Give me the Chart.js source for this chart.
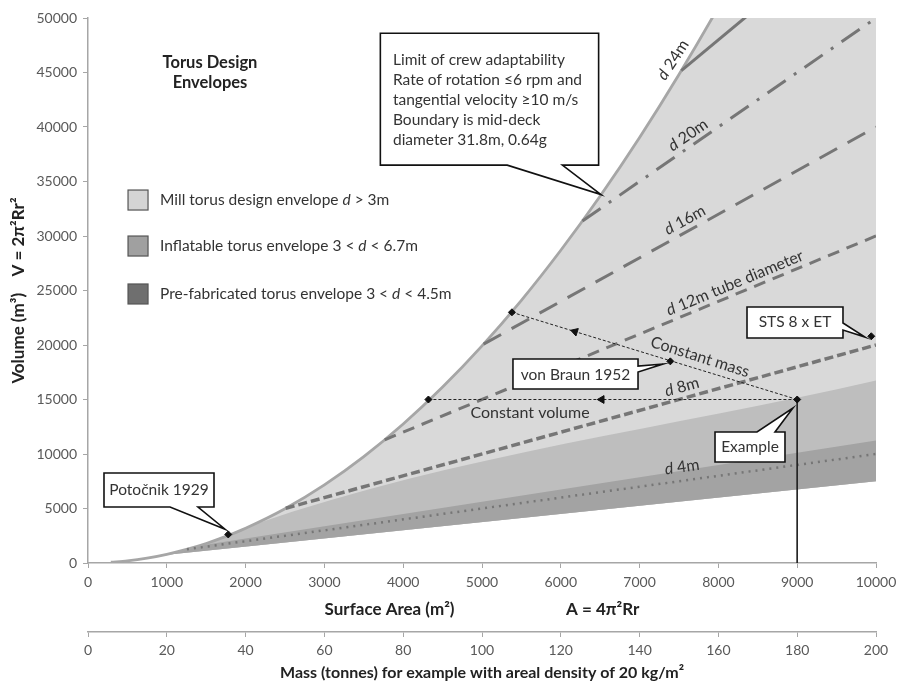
<!DOCTYPE html>
<html>
<head>
<meta charset="utf-8">
<script src="https://cdn.jsdelivr.net/npm/chart.js@4.4.0/dist/chart.umd.min.js"></script>
<style>
  html, body { margin: 0; padding: 0; background: #fff; }
</style>
</head>
<body>
<canvas id="chart" width="909" height="682"></canvas>
<script>
// values: surface area A (m2) and volume V (m3)

// limit of crew adaptability (boundary curve)
const boundaryA = [290, 500, 750, 1000, 1250, 1500, 1750, 2000, 2500, 3000, 3500, 4000, 4500, 5000, 5500, 6000, 6500, 7000, 7500, 8000, 8500];
const boundaryV = [70, 200, 450, 800, 1250, 1790, 2440, 3190, 4980, 7170, 9760, 12750, 16140, 19920, 24100, 28690, 33670, 39040, 44820, 51000, 57570];

// envelopes: upper edges, all share the d = 3m line as lower edge
const millA = [940, 1000, 1250, 1500, 1750, 2000, 2500, 3000, 3500, 4000, 4500, 5000, 5500, 6000, 6500, 7000, 7500, 8000, 8500, 10000];
const millV = [700, 800, 1250, 1790, 2440, 3190, 4980, 7170, 9760, 12750, 16140, 19920, 24100, 28690, 33670, 39040, 44820, 51000, 57570, 80000];
const inflatableA = [940, 1000, 1250, 1500, 1750, 2000, 2100, 10000];
const inflatableV = [700, 800, 1250, 1790, 2440, 3190, 3520, 16750];
const prefabA = [940, 1000, 1250, 1410, 10000];
const prefabV = [700, 800, 1250, 1590, 11250];
const d3A = [940, 10000];
const d3V = [700, 7500];

// tube diameter lines
const d4A = [1255, 10000], d4V = [1255, 10000];
const d8A = [2510, 10000], d8V = [5020, 20000];
const d12A = [3765, 10000], d12V = [11300, 30000];
const d16A = [5020, 10000], d16V = [20080, 40000];
const d20A = [6275, 10000], d20V = [31380, 50000];
const d24A = [7530, 10000], d24V = [45180, 60000];

// design points: Potocnik, const volume end, const mass end, von Braun, example, STS
const markerA = [1780, 4320, 5380, 7390, 9000, 9940];
const markerV = [2620, 15000, 23000, 18500, 15000, 20800];
const constVolA = [4320, 9000], constVolV = [15000, 15000];
const constMassA = [5380, 9000], constMassV = [23000, 15000];
const exampleA = [9000, 9000], exampleV = [15000, 0];
const arrowA = [6520, 6180], arrowV = [15000, 21230];
const arrowRot = [-90, -72.5];

const areaTicks = [0, 10000, 1000];
const volumeTicks = [0, 50000, 5000];
const massTicks = [0, 200, 20];

const xy = (a, v) => a.map((x, i) => ({ x: x, y: v[i] }));
const FONT = 'Lato, "Open Sans", sans-serif';
const LINE = '#767676';

function dline(a, v, dash, width) {
  return { data: xy(a, v), borderColor: LINE, borderWidth: width || 3, borderDash: dash,
    pointRadius: 0, fill: false, order: 2, borderCapStyle: 'butt' };
}

const datasets = [
  { data: xy(markerA, markerV), showLine: false, pointStyle: 'rectRot', pointRadius: 3.5,
    pointBackgroundColor: '#111', pointBorderColor: '#111', order: 0 },
  { data: xy(arrowA, arrowV), showLine: false, pointStyle: 'triangle', pointRadius: 4.5,
    pointRotation: arrowRot, pointBackgroundColor: '#111', pointBorderColor: '#111', order: 0 },
  { data: xy(constVolA, constVolV), borderColor: '#222', borderWidth: 1, borderDash: [3, 2], pointRadius: 0, order: 1 },
  { data: xy(constMassA, constMassV), borderColor: '#222', borderWidth: 1, borderDash: [3, 2], pointRadius: 0, order: 1 },
  { data: xy(exampleA, exampleV), borderColor: '#222', borderWidth: 1, pointRadius: 0, order: 1 },
  dline(d4A, d4V, [2, 5], 2.5),
  dline(d8A, d8V, [9, 4], 3.5),
  dline(d12A, d12V, [12, 8]),
  dline(d16A, d16V, [20, 12]),
  dline(d20A, d20V, [22, 10, 3, 10]),
  dline(d24A, d24V, []),
  { data: xy(boundaryA, boundaryV), borderColor: '#a6a6a6', borderWidth: 2.8, pointRadius: 0,
    cubicInterpolationMode: 'monotone', order: 3 },
  { data: xy(prefabA, prefabV), borderWidth: 0, pointRadius: 0, backgroundColor: '#a3a3a3',
    fill: 15, order: 5 },
  { data: xy(inflatableA, inflatableV), borderWidth: 0, pointRadius: 0, backgroundColor: '#bebebe',
    cubicInterpolationMode: 'monotone', fill: 15, order: 6 },
  { data: xy(millA, millV), borderWidth: 0, pointRadius: 0, backgroundColor: '#d9d9d9',
    cubicInterpolationMode: 'monotone', fill: 15, order: 7 },
  { data: xy(d3A, d3V), borderWidth: 0, pointRadius: 0, order: 8 }
];

// text on the lines, in data units
const lineLabels = [
  { parts: [['d', 1], [' 24m', 0]], a: 7425, v: 46150, rot: -57 },
  { parts: [['d', 1], [' 20m', 0]], a: 7614, v: 39265, rot: -34.7 },
  { parts: [['d', 1], [' 16m', 0]], a: 7576, v: 31470, rot: -29 },
  { parts: [['d', 1], [' 12m tube diameter', 0]], a: 8210, v: 25690, rot: -22.5 },
  { parts: [['d', 1], [' 8m', 0]], a: 7538, v: 16150, rot: -15.5 },
  { parts: [['d', 1], [' 4m', 0]], a: 7538, v: 8810, rot: -8 },
  { parts: [['Constant mass', 0]], a: 7766, v: 18900, rot: 17.5 },
  { parts: [['Constant volume', 0]], a: 5609, v: 13760, rot: 0 }
];

const callouts = [
  { box: [3710, 48600, 6480, 36500], side: 'bottom', base: [5320, 6020], tip: [6510, 33800],
    lines: ['Limit of crew adaptability', 'Rate of rotation \u22646 rpm and', 'tangential velocity \u226510 m/s',
            'Boundary is mid-deck', 'diameter 31.8m, 0.64g'],
    textA: 3870, textV: [46150, 44310, 42480, 40640, 38810], align: 'left' },
  { box: [203, 8257, 1599, 5137], side: 'bottom', base: [1041, 1396], tip: [1740, 3100],
    lines: ['Poto\u010Dnik 1929'], textA: 901, textV: [6700], align: 'center' },
  { box: [5393, 18715, 6980, 15963], side: 'right', base: [18070, 17520], tip: [7297, 18256],
    lines: ['von Braun 1952'], textA: 6186, textV: [17250], align: 'center' },
  { box: [8363, 23486, 9581, 20642], side: 'right', base: [22017, 21375], tip: [9860, 20733],
    lines: ['STS 8 x ET'], textA: 8972, textV: [22110], align: 'center' },
  { box: [7957, 12018, 8845, 9266], side: 'top', base: [8490, 8718], tip: [8946, 14220],
    lines: ['Example'], textA: 8401, textV: [10640], align: 'center' }
];

const legendItems = [
  { color: '#d4d4d4', parts: [['Mill torus design envelope ', 0], ['d', 1], [' > 3m', 0]], v: 33300 },
  { color: '#a0a0a0', parts: [['Inflatable torus envelope 3 < ', 0], ['d', 1], [' < 6.7m', 0]], v: 29080 },
  { color: '#6f6f6f', parts: [['Pre-fabricated torus envelope 3 < ', 0], ['d', 1], [' < 4.5m', 0]], v: 24680 }
];

function richText(ctx, parts, x, y, align, size, color) {
  ctx.fillStyle = color;
  ctx.textBaseline = 'middle';
  ctx.textAlign = 'left';
  let w = 0;
  parts.forEach(p => { ctx.font = (p[1] ? 'italic ' : '') + size + 'px ' + FONT; w += ctx.measureText(p[0]).width; });
  let cx = align === 'center' ? x - w / 2 : x;
  parts.forEach(p => {
    ctx.font = (p[1] ? 'italic ' : '') + size + 'px ' + FONT;
    ctx.fillText(p[0], cx, y);
    cx += ctx.measureText(p[0]).width;
  });
}

const decor = {
  id: 'decor',
  afterDatasetsDraw(chart) {
    const { ctx, scales: { x, y } } = chart;
    const px = a => x.getPixelForValue(a), py = v => y.getPixelForValue(v);
    ctx.save();

    // title
    ctx.font = 'bold 16.5px ' + FONT;
    ctx.fillStyle = '#222';
    ctx.textAlign = 'center';
    ctx.textBaseline = 'middle';
    ctx.fillText('Torus Design', px(1548), py(45870));
    ctx.fillText('Envelopes', px(1548), py(44035));

    // legend
    legendItems.forEach(it => {
      const cy = py(it.v);
      ctx.fillStyle = it.color;
      ctx.fillRect(px(508), cy - 10, 20, 20);
      ctx.strokeStyle = '#555';
      ctx.lineWidth = 1.2;
      ctx.strokeRect(px(508), cy - 10, 20, 20);
      richText(ctx, it.parts, px(914), cy, 'left', 15.5, '#333');
    });

    // labels along lines
    lineLabels.forEach(l => {
      ctx.save();
      ctx.translate(px(l.a), py(l.v));
      ctx.rotate(l.rot * Math.PI / 180);
      richText(ctx, l.parts, 0, 0, 'center', 16, '#333');
      ctx.restore();
    });

    // callout boxes
    callouts.forEach(c => {
      const x1 = px(c.box[0]), y1 = py(c.box[1]), x2 = px(c.box[2]), y2 = py(c.box[3]);
      const tx = px(c.tip[0]), ty = py(c.tip[1]);
      ctx.beginPath();
      ctx.moveTo(x1, y1);
      if (c.side === 'top') {
        ctx.lineTo(px(c.base[0]), y1); ctx.lineTo(tx, ty); ctx.lineTo(px(c.base[1]), y1);
      }
      ctx.lineTo(x2, y1);
      if (c.side === 'right') {
        ctx.lineTo(x2, py(c.base[0])); ctx.lineTo(tx, ty); ctx.lineTo(x2, py(c.base[1]));
      }
      ctx.lineTo(x2, y2);
      if (c.side === 'bottom') {
        ctx.lineTo(px(c.base[1]), y2); ctx.lineTo(tx, ty); ctx.lineTo(px(c.base[0]), y2);
      }
      ctx.lineTo(x1, y2);
      ctx.closePath();
      ctx.fillStyle = '#fff';
      ctx.fill();
      ctx.strokeStyle = '#111';
      ctx.lineWidth = 1.6;
      ctx.lineJoin = 'miter';
      ctx.stroke();
      c.lines.forEach((t, i) => richText(ctx, [[t, 0]], px(c.textA), py(c.textV[i]), c.align, 15.5, '#333'));
    });
    ctx.restore();
  }
};

const tickFont = { family: FONT, size: 14 };

new Chart(document.getElementById('chart'), {
  type: 'line',
  data: { datasets: datasets },
  options: {
    responsive: false,
    animation: false,
    events: [],
    layout: { padding: { top: 18, right: 33, bottom: 0, left: 0 } },
    plugins: { legend: { display: false }, tooltip: { enabled: false } },
    elements: { line: { tension: 0 } },
    scales: {
      x: {
        type: 'linear', position: 'bottom', weight: 0,
        min: areaTicks[0], max: areaTicks[1],
        ticks: { stepSize: areaTicks[2], color: '#595959', font: tickFont, padding: 6, maxRotation: 0,
                 callback: v => String(v) },
        grid: { drawOnChartArea: false, drawTicks: true, tickLength: 5, color: '#a6a6a6' },
        border: { color: '#a6a6a6', width: 1.5 },
        title: { display: true, text: 'Surface Area (m\u00B2)' + ' '.repeat(27) + 'A = 4\u03C0\u00B2Rr',
                 color: '#222', font: { family: FONT, size: 17, weight: 'bold' }, padding: { top: 0, bottom: 12 } },
        afterFit: s => { s.height = 69; }
      },
      x2: {
        type: 'linear', position: 'bottom', weight: 1,
        min: massTicks[0], max: massTicks[1],
        ticks: { stepSize: massTicks[2], color: '#595959', font: tickFont, padding: 5, maxRotation: 0 },
        grid: { drawOnChartArea: false, drawTicks: true, tickLength: 5, color: '#a6a6a6' },
        border: { color: '#a6a6a6', width: 1.5 },
        title: { display: true, text: 'Mass (tonnes) for example with areal density of 20 kg/m\u00B2',
                 color: '#222', font: { family: FONT, size: 16, weight: 'bold' }, padding: { top: 0, bottom: 0 } },
        afterFit: s => { s.height = 50; }
      },
      y: {
        type: 'linear', position: 'left',
        min: volumeTicks[0], max: volumeTicks[1],
        ticks: { stepSize: volumeTicks[2], color: '#595959', font: tickFont, padding: 6,
                 callback: v => String(v) },
        grid: { drawOnChartArea: false, drawTicks: true, tickLength: 5, color: '#a6a6a6' },
        border: { color: '#a6a6a6', width: 1.5 },
        title: { display: true, text: 'Volume (m\u00B3)    V = 2\u03C0\u00B2Rr\u00B2',
                 color: '#222', font: { family: FONT, size: 17, weight: 'bold' }, padding: { top: 8, bottom: 0 } },
        afterFit: s => { s.width = 88; }
      }
    }
  },
  plugins: [decor]
});
</script>
</body>
</html>
